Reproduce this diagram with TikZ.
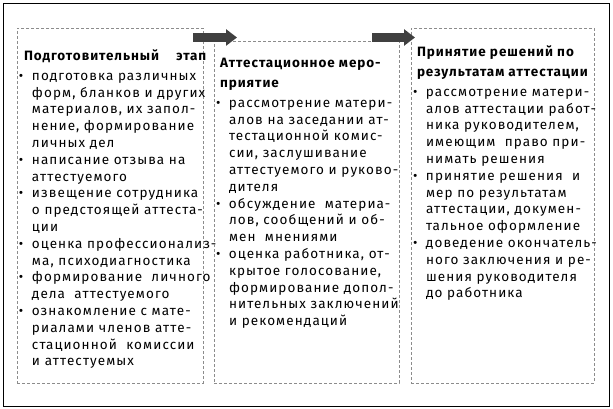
\documentclass[tikz,border=0pt]{standalone}
\usepackage{fontspec}
\setmainfont{Fira Sans}[LetterSpace=8,BoldFeatures={LetterSpace=7}]
\usetikzlibrary{arrows.meta,positioning}

\definecolor{arrowgray}{HTML}{404040}
\definecolor{dashgray}{HTML}{8C8C8C}

\newcommand{\mkbul}{\makebox[13pt][l]{•}}
\newcommand{\mkind}{\hspace*{13pt}}

\begin{document}
\begin{tikzpicture}[
        x=1pt,y=-1pt,
        every node/.style={font=\fontsize{13.5}{16.8}\selectfont,inner sep=0pt,outer sep=0pt},
        stagebox/.style={draw=dashgray,dash pattern=on 3pt off 2pt,line width=0.6pt,anchor=north west},
        stagetitle/.style={font=\fontsize{13.5}{20}\selectfont\bfseries,align=left,anchor=north west},
        itemlist/.style={align=left,anchor=north west},
        stagearrow/.style={draw=arrowgray,line width=9.5pt,-{Triangle[length=11pt,width=16pt]}}
    ]

    \useasboundingbox (0,0) rectangle (613,409);
    \draw[line width=0.8pt] (3,3) rectangle (609,406);

    % Preparation
    \node[stagebox,minimum width=186pt,minimum height=355pt] (box1) at (17,28) {};
    \node[stagetitle] (title1) at (24,50) {Подготовительный\hspace{17pt}этап};
    \node[itemlist] (list1) at (19,73) {%
        \mkbul подготовка различных\\
        \mkind форм, бланков и других\\
        \mkind материалов, их запол-\\
        \mkind нение, формирование\\
        \mkind личных дел\\
        \mkbul написание отзыва на\\
        \mkind аттестуемого\\
        \mkbul извещение сотрудника\\
        \mkind о предстоящей аттеста-\\
        \mkind ции\\
        \mkbul оценка профессионализ-\\
        \mkind ма, психодиагностика\\
        \mkbul формирование\ \ личного\\
        \mkind дела\ \ аттестуемого\\
        \mkbul ознакомление с мате-\\
        \mkind риалами членов атте-\\
        \mkind стационной\ \ комиссии\\
        \mkind и аттестуемых};

    % Attestation
    \node[stagebox,minimum width=185pt,minimum height=342pt] (box2) at (214,41) {};
    \node[stagetitle] (title2) at (220,58) {Аттестационное меро-\\приятие};
    \node[itemlist] (list2) at (216,100) {%
        \mkbul рассмотрение матери-\\
        \mkind алов на заседании ат-\\
        \mkind тестационной комис-\\
        \mkind сии, заслушивание\\
        \mkind аттестуемого и руково-\\
        \mkind дителя\\
        \mkbul обсуждение\ \ материа-\\
        \mkind лов, сообщений и об-\\
        \mkind мен\ \ мнениями\\
        \mkbul оценка работника, от-\\
        \mkind крытое голосование,\\
        \mkind формирование допол-\\
        \mkind нительных заключений\\
        \mkind и рекомендаций};

    % Decisions
    \node[stagebox,minimum width=183pt,minimum height=355pt] (box3) at (411,28) {};
    \node[stagetitle] (title3) at (417,46) {Принятие решений по\\результатам аттестации};
    \node[itemlist] (list3) at (413,89) {%
        \mkbul рассмотрение матери-\\
        \mkind алов аттестации работ-\\
        \mkind ника руководителем,\\
        \mkind имеющим\ \ право при-\\
        \mkind нимать решения\\
        \mkbul принятие решения\ \ и\\
        \mkind мер по результатам\\
        \mkind аттестации, докумен-\\
        \mkind тальное оформление\\
        \mkbul доведение окончатель-\\
        \mkind ного заключения и ре-\\
        \mkind шения руководителя\\
        \mkind до работника};

    % Arrows between stages
    \coordinate (arr1s) at (193,37.5);
    \coordinate (arr1e) at (237,37.5);
    \coordinate (arr2s) at (372,37.5);
    \coordinate (arr2e) at (415,37.5);
    \draw[stagearrow] (arr1s) -- (arr1e);
    \draw[stagearrow] (arr2s) -- (arr2e);

\end{tikzpicture}
\end{document}
